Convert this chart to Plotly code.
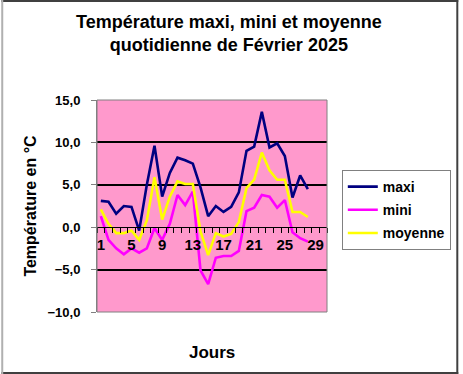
import plotly.graph_objects as go

days = list(range(1, 29))
maxi = [3.1, 3.0, 1.6, 2.5, 2.4, -0.4, 5.0, 9.6, 3.6, 6.4, 8.2, 7.9, 7.5, 4.7,
        1.3, 2.5, 1.8, 2.4, 4.1, 9.0, 9.5, 13.6, 9.4, 9.9, 8.4, 3.5, 6.1, 4.5]
mini = [1.3, -1.5, -2.5, -3.2, -2.5, -3.0, -2.5, -0.1, -1.5, 0.4, 3.8, 2.6, 4.2, -5.1,
        -6.7, -3.6, -3.4, -3.4, -2.8, 1.9, 2.3, 3.8, 3.6, 2.3, 3.2, -0.6, -1.3, -1.7]
moyenne = [2.1, 0.4, -0.7, -0.7, -0.4, -1.5, 0.8, 5.9, 0.9, 3.6, 5.4, 5.1, 5.1, -0.5,
           -3.3, -0.7, -1.1, -0.8, 0.6, 4.6, 5.6, 8.8, 6.7, 5.6, 5.6, 1.8, 1.8, 1.2]
x_tick_vals = [1, 5, 9, 13, 17, 21, 25, 29]
y_tick_vals = [-10, -5, 0, 5, 10, 15]
grid_vals = [-5, 5, 10]

FONT = "Liberation Sans, Arial, sans-serif"
W, H = 463, 374
L, R, T, B = 97, 133, 100, 62
PW, PH = W - L - R, H - T - B


def px(x):
    return (x - L) / PW


def py(y):
    return (H - B - y) / PH


fig = go.Figure()
for name, vals, color, grp in [("maxi", maxi, "#000080", "a"),
                               ("mini", mini, "#FF00FF", "b"),
                               ("moyenne", moyenne, "#FFFF00", "c")]:
    fig.add_trace(go.Scatter(x=days, y=vals, mode="lines", name=name,
                             legendgroup=grp,
                             line=dict(color=color, width=2.6)))

# invisible trace for grid axis
fig.add_trace(go.Scatter(x=[1], y=[0], yaxis="y2", mode="markers",
                         marker=dict(opacity=0), showlegend=False, hoverinfo="skip"))

fig.update_layout(
    width=W, height=H,
    margin=dict(l=L, r=R, t=T, b=B),
    paper_bgcolor="white",
    plot_bgcolor="#FF99CC",
    separators=", ",
    font=dict(family=FONT, color="black"),
    xaxis=dict(range=[0.5, 30.5], anchor="free", position=0.4,
               tickvals=x_tick_vals, ticks="", showgrid=False, zeroline=False,
               showline=True, linecolor="black", linewidth=1,
               ticklabelstandoff=4,
               tickfont=dict(size=15, weight="bold"),
               minor=dict(ticks="outside", tick0=0.5, dtick=1, ticklen=5,
                          tickcolor="black", showgrid=False)),
    yaxis=dict(range=[-10, 15], tickvals=y_tick_vals, tickformat=".1f",
               showgrid=False, zeroline=False, showline=True, linecolor="#808080",
               ticks="outside", ticklen=5, tickcolor="#808080",
               ticklabelstandoff=8,
               tickfont=dict(size=13, weight="bold"),
               title=dict(text="Température en °C", standoff=6,
                          font=dict(size=16, weight="bold"))),
    yaxis2=dict(range=[-10, 15], overlaying="y", tickvals=grid_vals,
                showticklabels=False, showgrid=True, gridcolor="black",
                gridwidth=2, zeroline=False, showline=False, ticks=""),
    legend=dict(x=px(345), xanchor="left", y=py(170), yanchor="top",
                bgcolor="white", bordercolor="#808080", borderwidth=1,
                tracegroupgap=2, itemwidth=30,
                font=dict(size=14, weight="bold")),
    showlegend=True,
    annotations=[
        dict(text="Température maxi, mini et moyenne<br>quotidienne de Février 2025",
             xref="paper", yref="paper", x=px(231), y=py(34),
             xanchor="center", yanchor="middle", showarrow=False,
             font=dict(size=18, weight="bold")),
        dict(text="Jours", xref="paper", yref="paper", x=0.5, y=py(352),
             xanchor="center", yanchor="middle", showarrow=False,
             font=dict(size=17, weight="bold"))],
    shapes=[dict(type="rect", xref="paper", yref="paper", x0=0, x1=1, y0=0, y1=1,
                 line=dict(color="#808080", width=1), layer="above"),
            dict(type="line", xref="paper", yref="paper", x0=px(0), x1=px(463),
                 y0=py(1), y1=py(1), line=dict(color="#404040", width=2)),
            dict(type="line", xref="paper", yref="paper", x0=px(0), x1=px(463),
                 y0=py(373), y1=py(373), line=dict(color="#404040", width=2)),
            dict(type="line", xref="paper", yref="paper", x0=px(462), x1=px(462),
                 y0=py(0), y1=py(374), line=dict(color="#404040", width=2)),
            dict(type="line", xref="paper", yref="paper", x0=px(1), x1=px(1),
                 y0=py(0), y1=py(374), line=dict(color="#B0B0B0", width=2))],
)

fig.write_html("out.html", config={"displayModeBar": False},
               post_script="document.body.style.margin='0';document.body.style.padding='0';document.body.style.overflow='hidden';")
